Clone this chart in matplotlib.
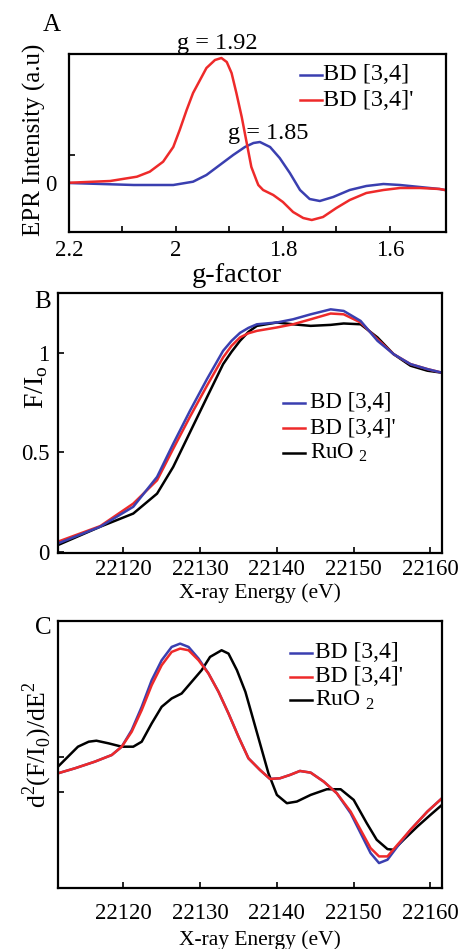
import numpy as np
import matplotlib
matplotlib.use("Agg")
import matplotlib.pyplot as plt

plt.rcParams['font.family'] = ['Liberation Serif', 'DejaVu Serif']
plt.rcParams['mathtext.fontset'] = 'custom'
plt.rcParams['mathtext.rm'] = 'Liberation Serif'

# ---- A: EPR spectra ----
g_blue = [2.2, 2.079, 2.005, 1.968, 1.943, 1.918, 1.893, 1.871, 1.855, 1.843, 1.824,
          1.806, 1.787, 1.768, 1.75, 1.731, 1.706, 1.675, 1.644, 1.612, 1.581, 1.544,
          1.507, 1.497]
epr_blue = [0.0, -0.2, -0.2, 0.13, 0.8, 1.8, 2.8, 3.6, 4.0, 4.1, 3.6,
            2.5, 1.0, -0.7, -1.6, -1.8, -1.4, -0.7, -0.3, -0.1, -0.2, -0.4,
            -0.6, -0.7]
g_red = [2.198, 2.123, 2.073, 2.049, 2.024, 2.005, 1.993, 1.98, 1.968, 1.955, 1.943,
         1.927, 1.915, 1.905, 1.896, 1.887, 1.877, 1.868, 1.859, 1.849, 1.846, 1.837,
         1.818, 1.8, 1.781, 1.762, 1.746, 1.725, 1.7, 1.675, 1.644, 1.612, 1.581,
         1.544, 1.507, 1.497]
epr_red = [0.03, 0.2, 0.63, 1.13, 2.13, 3.6, 5.3, 7.3, 9.0, 10.3, 11.5,
           12.3, 12.5, 12.1, 11.0, 9.0, 6.6, 4.1, 1.6, 0.2, -0.2, -0.7,
           -1.2, -1.9, -2.9, -3.5, -3.7, -3.4, -2.5, -1.7, -1.0, -0.7, -0.5,
           -0.5, -0.6, -0.7]

# ---- B: XANES ----
e_b = [22111.5, 22117, 22121.3, 22124.4, 22126.5, 22128.7, 22130.9, 22133, 22134.1,
       22135.2, 22136.3, 22137.4, 22140, 22142.1, 22144.4, 22147, 22148.7, 22150.9,
       22153.1, 22155.2, 22157.4, 22159.6, 22161.5]
xanes_blue = [0.043, 0.127, 0.227, 0.377, 0.543, 0.71, 0.868, 1.01, 1.06, 1.10, 1.125,
              1.143, 1.152, 1.168, 1.193, 1.218, 1.21, 1.16, 1.06, 0.993, 0.943, 0.918,
              0.90]
xanes_red = [0.052, 0.13, 0.243, 0.36, 0.518, 0.68, 0.835, 0.977, 1.035, 1.077, 1.098,
             1.11, 1.127, 1.143, 1.168, 1.197, 1.193, 1.152, 1.068, 0.993, 0.943, 0.918,
             0.90]
xanes_black = [0.035, 0.127, 0.193, 0.293, 0.427, 0.602, 0.777, 0.943, 1.005, 1.06, 1.105,
               1.135, 1.152, 1.143, 1.135, 1.14, 1.147, 1.143, 1.077, 0.993, 0.935, 0.91,
               0.90]

# ---- C: second derivative ----
e_c = [22111.5, 22113.7, 22116.3, 22118.5, 22119.8, 22121.1, 22122.4, 22123.7, 22125,
       22126.3, 22127.4, 22128.5, 22129.8, 22131.1, 22132.4, 22133.7, 22135, 22136.3,
       22137.8, 22139.1, 22140.4, 22141.7, 22143, 22144.4, 22146.1, 22147.8, 22149.6,
       22150.9, 22152.2, 22153.3, 22154.4, 22155.7, 22157.4, 22159.6, 22161.5]
d2_blue = [0.55, 0.7, 0.9, 1.1, 1.35, 1.85, 2.55, 3.35, 3.95,
           4.35, 4.45, 4.35, 4.0, 3.55, 3.0, 2.35, 1.65, 1.0,
           0.65, 0.38, 0.4, 0.5, 0.62, 0.57, 0.3, -0.05, -0.65,
           -1.25, -1.85, -2.15, -2.05, -1.65, -1.15, -0.6, -0.2]
d2_red = [0.55, 0.7, 0.9, 1.1, 1.35, 1.8, 2.45, 3.2, 3.8,
          4.2, 4.3, 4.25, 3.95, 3.55, 3.0, 2.35, 1.65, 1.0,
          0.65, 0.38, 0.4, 0.5, 0.62, 0.57, 0.3, -0.05, -0.6,
          -1.15, -1.7, -1.95, -1.95, -1.6, -1.15, -0.6, -0.2]
e_c_black = [22111.5, 22112.8, 22114.1, 22115.5, 22116.5, 22118.1, 22119.8, 22121.3,
             22122.4, 22123.7, 22125, 22126.3, 22127.6, 22128.9, 22130.2, 22131.3,
             22132.8, 22133.7, 22134.8, 22135.9, 22136.7, 22137.8, 22138.9, 22140,
             22141.3, 22142.6, 22144.4, 22146.5, 22148.3, 22150, 22151.7, 22153,
             22154.4, 22155.2, 22156.5, 22158.3, 22160, 22161.5]
d2_black = [0.75, 1.05, 1.35, 1.5, 1.53, 1.45, 1.35, 1.35,
            1.5, 2.05, 2.55, 2.8, 2.95, 3.3, 3.65, 4.05,
            4.25, 4.15, 3.65, 3.0, 2.35, 1.45, 0.55, -0.1,
            -0.35, -0.3, -0.1, 0.07, 0.07, -0.25, -0.95, -1.45,
            -1.73, -1.75, -1.45, -1.05, -0.7, -0.4]

BLUE = '#3a3fb0'
RED = '#ee2a2a'
W, H = 467, 949


def box(left, top, right, bottom):
    return [left / W, 1 - bottom / H, (right - left) / W, (bottom - top) / H]


def ftext(x, y, s, **kw):
    fig.text(x / W, 1 - y / H, s, **kw)


def style(ax, xpad, ypad):
    for sp in ax.spines.values():
        sp.set_linewidth(1.6)
    ax.tick_params(direction='in', length=4, width=1.2, labelsize=16.5)
    ax.tick_params(axis='x', pad=xpad)
    ax.tick_params(axis='y', pad=ypad)


def legend_rows(x0, x1, xt, ys, labels, colors, size):
    for y, lab, c in zip(ys, labels, colors):
        fig.add_artist(plt.Line2D([x0 / W, x1 / W], [1 - y / H, 1 - y / H], color=c, lw=1.8))
        ftext(xt, y, lab, fontsize=size, va='center', ha='left')


fig = plt.figure(figsize=(4.67, 9.49), dpi=100)

# panel A
axa = fig.add_axes(box(69, 54, 446, 232))
axa.plot(g_blue, epr_blue, color=BLUE, lw=1.8)
axa.plot(g_red, epr_red, color=RED, lw=1.8)
axa.set_xlim(2.2, 1.495)
axa.set_ylim(-4.9, 12.9)
axa.set_xticks([2.2, 2.0, 1.8, 1.6])
axa.set_xticklabels(['2.2', '2', '1.8', '1.6'])
axa.set_xticks([2.1, 1.9, 1.7], minor=True)
axa.set_yticks([0, 2.8])
axa.set_yticklabels(['0', ''])
style(axa, 6, 9)
axa.tick_params(which='minor', direction='in', length=4, width=1.2)
ftext(237, 276, 'g-factor', fontsize=20.5, ha='center', va='center')
ftext(34, 140, 'EPR Intensity (a.u)', fontsize=18, rotation=90, ha='center', va='center')
ftext(52, 25, 'A', fontsize=18, ha='center', va='center')
ftext(217, 43, 'g = 1.92', fontsize=17.5, ha='center', va='center')
ftext(268, 133, 'g = 1.85', fontsize=17.5, ha='center', va='center')
legend_rows(300, 322, 323, [75, 100], ['BD [3,4]', "BD [3,4]'"], [BLUE, RED], 17.5)

# panel B
axb = fig.add_axes(box(58, 293, 442, 553))
axb.plot(e_b, xanes_black, color='black', lw=1.8)
axb.plot(e_b, xanes_red, color=RED, lw=1.8)
axb.plot(e_b, xanes_blue, color=BLUE, lw=1.8)
axb.set_xlim(22111.5, 22161.5)
axb.set_ylim(-0.005, 1.3)
axb.set_xticks([22120, 22130, 22140, 22150, 22160])
axb.set_yticks([0, 0.5, 1])
axb.set_yticklabels(['0', '0.5', '1'])
style(axb, 4, 6)
ftext(260, 593, 'X-ray Energy (eV)', fontsize=15.5, ha='center', va='center')
ftext(37, 387, r'F/I$_\mathregular{o}$', fontsize=20, rotation=90, ha='center', va='center')
ftext(43, 302, 'B', fontsize=18, ha='center', va='center')
legend_rows(283, 305, 310, [403, 428, 453],
            ['BD [3,4]', "BD [3,4]'", r'RuO$_\mathregular{\ 2}$'], [BLUE, RED, 'black'], 16.5)

# panel C
axc = fig.add_axes(box(58, 621, 442, 888))
axc.plot(e_c_black, d2_black, color='black', lw=1.8)
axc.plot(e_c, d2_blue, color=BLUE, lw=1.8)
axc.plot(e_c, d2_red, color=RED, lw=1.8)
axc.set_xlim(22111.5, 22161.5)
axc.set_ylim(-2.9, 5.13)
axc.set_xticks([22120, 22130, 22140, 22150, 22160])
axc.set_yticks([0, 1.05])
axc.set_yticklabels(['', ''])
style(axc, 11, 6)
ftext(260, 940, 'X-ray Energy (eV)', fontsize=15.5, ha='center', va='center')
ftext(37, 745, r'd$^\mathregular{2}$(F/I$_\mathregular{0}$)/dE$^\mathregular{2}$', fontsize=18.5,
      rotation=90, ha='center', va='center')
ftext(43, 628, 'C', fontsize=18, ha='center', va='center')
legend_rows(290, 312, 315, [653, 677, 700],
            ['BD [3,4]', "BD [3,4]'", r'RuO$_\mathregular{\ 2}$'], [BLUE, RED, 'black'], 17)

fig.savefig('out.png', dpi=100)
